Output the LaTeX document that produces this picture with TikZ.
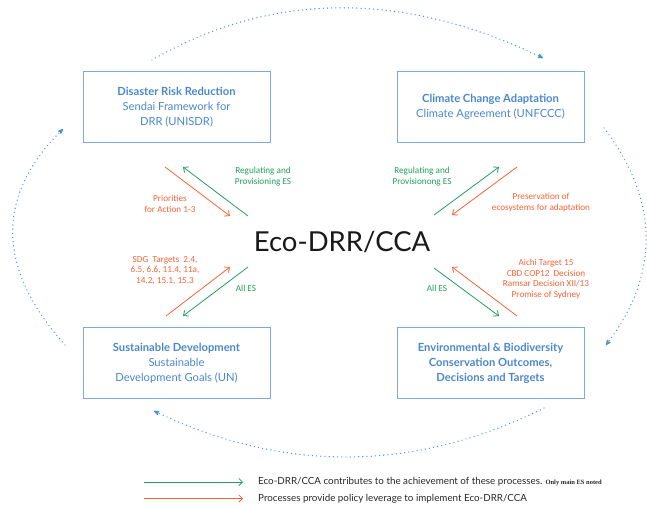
\documentclass[tikz,border=0pt]{standalone}
\usepackage{fontspec}
\setmainfont{Lato}
\newfontfamily\lblfont{Carlito}
\newfontfamily\serifnote{Liberation Serif}
\usetikzlibrary{arrows.meta}
\definecolor{esgreen}{RGB}{34,160,90}
\definecolor{esorange}{RGB}{245,100,55}
\definecolor{boxtext}{RGB}{75,135,205}
\definecolor{boxline}{RGB}{125,170,220}
\definecolor{arcblue}{RGB}{80,145,215}
\definecolor{legtext}{RGB}{40,40,40}
\tikzset{
  procbox/.style={draw=boxline, line width=0.9pt, minimum width=187pt, minimum height=71pt, inner sep=0pt,
    text=boxtext, align=center, font=\fontsize{11.2}{15}\selectfont},
  lbl/.style={align=center, inner sep=0pt, font=\lblfont\fontsize{9.2}{10.7}\selectfont},
  glbl/.style={lbl, text=esgreen},
  olbl/.style={lbl, text=esorange},
  garrow/.style={draw=esgreen, line width=0.8pt, -{Straight Barb[length=4pt,width=7pt]}},
  oarrow/.style={draw=esorange, line width=0.8pt, -{Straight Barb[length=4pt,width=7pt]}},
  cyclearc/.style={draw=arcblue, line width=1.4pt, line cap=round, dash pattern=on 0pt off 4.2pt,
    -{Stealth[length=8pt,width=6pt,round]}},
  legtxt/.style={anchor=west, inner sep=0pt, text=legtext, font=\fontsize{9.8}{11}\selectfont}
}
\begin{document}
\begin{tikzpicture}[x=1pt,y=-1pt]
\useasboundingbox (0,0) rectangle (647,504);

% boxes
\node[procbox] (drr) at (176.5,107) {\textbf{Disaster Risk Reduction}\\Sendai Framework for\\DRR (UNISDR)};
\node[procbox] (cca) at (490.5,107) {\textbf{Climate Change Adaptation}\\Climate Agreement (UNFCCC)};
\node[procbox] (sd) at (176.5,363) {\textbf{Sustainable Development}\\Sustainable\\Development Goals (UN)};
\node[procbox] (env) at (490.5,363) {\textbf{Environmental \& Biodiversity}\\\textbf{Conservation Outcomes,}\\\textbf{Decisions and Targets}};

% centre
\node[inner sep=0pt, text=black!90, font=\fontsize{27.5}{30}\selectfont] (eco) at (342,242) {Eco-DRR/CCA};

% arrow end points
\coordinate (tlo1) at (165,167); \coordinate (tlo2) at (230,216);
\coordinate (tlg1) at (248,216); \coordinate (tlg2) at (183,167);
\coordinate (trg1) at (434,215); \coordinate (trg2) at (499,167);
\coordinate (tro1) at (517,167); \coordinate (tro2) at (452,215);
\coordinate (blo1) at (166,316); \coordinate (blo2) at (230,267);
\coordinate (blg1) at (248,267); \coordinate (blg2) at (183,316);
\coordinate (brg1) at (434,268); \coordinate (brg2) at (499,316);
\coordinate (bro1) at (517,316); \coordinate (bro2) at (452,267);

\draw[oarrow] (tlo1) -- (tlo2);
\draw[garrow] (tlg1) -- (tlg2);
\draw[garrow] (trg1) -- (trg2);
\draw[oarrow] (tro1) -- (tro2);
\draw[oarrow] (blo1) -- (blo2);
\draw[garrow] (blg1) -- (blg2);
\draw[garrow] (brg1) -- (brg2);
\draw[oarrow] (bro1) -- (bro2);

% labels
\node[glbl] (l1) at (263,176.5) {Regulating and\\Provisioning ES};
\node[olbl] (l2) at (170,203.5) {Priorities\\for Action 1-3};
\node[glbl] (l3) at (422,176.5) {Regulating and\\Provisionong ES};
\node[olbl] (l4) at (541,202.5) {Preservation of\\ecosystems for adaptation};
\node[olbl] (l5) at (165,270.5) {SDG\ \ Targets\ \ 2.4,\\6.5, 6.6, 11.4, 11a,\\14.2, 15.1, 15.3};
\node[glbl] (l6) at (246,288) {All ES};
\node[glbl] (l7) at (437,288) {All ES};
\node[olbl] (l8) at (546,279) {Aichi Target 15\\CBD COP12\ \ Decision\\Ramsar Decision XII/13\\Promise of Sydney};

% outer cycle
\coordinate (ts) at (152,60);  \coordinate (te) at (543,58);
\coordinate (rs) at (604,128); \coordinate (re) at (606,345);
\coordinate (bs) at (544,408); \coordinate (be) at (154,411);
\coordinate (ls) at (65,345);  \coordinate (le) at (63,129);
\draw[cyclearc] (ts) .. controls (272,-9) and (403,-9) .. (te);
\draw[cyclearc] (rs) .. controls (659,200) and (660,273) .. (re);
\draw[cyclearc] (bs) .. controls (415,472) and (285,473) .. (be);
\draw[cyclearc] (ls) .. controls (-4,268) and (-4,196) .. (le);

% legend
\coordinate (lga) at (144,482); \coordinate (lgb) at (243,482);
\coordinate (loa) at (144,498.5); \coordinate (lob) at (243,498.5);
\draw[draw=esgreen, line width=0.8pt, -{Straight Barb[length=3.5pt,width=7pt]}] (lga) -- (lgb);
\draw[draw=esorange, line width=0.8pt, -{Straight Barb[length=3.5pt,width=7pt]}] (loa) -- (lob);
\node[legtxt] (lt1) at (258,482) {Eco-DRR/CCA contributes to the achievement of these processes. {\serifnote\bfseries\fontsize{6.5}{7}\selectfont Only main ES noted}};
\node[legtxt] (lt2) at (258,498.5) {Processes provide policy leverage to implement Eco-DRR/CCA};
\end{tikzpicture}
\end{document}
